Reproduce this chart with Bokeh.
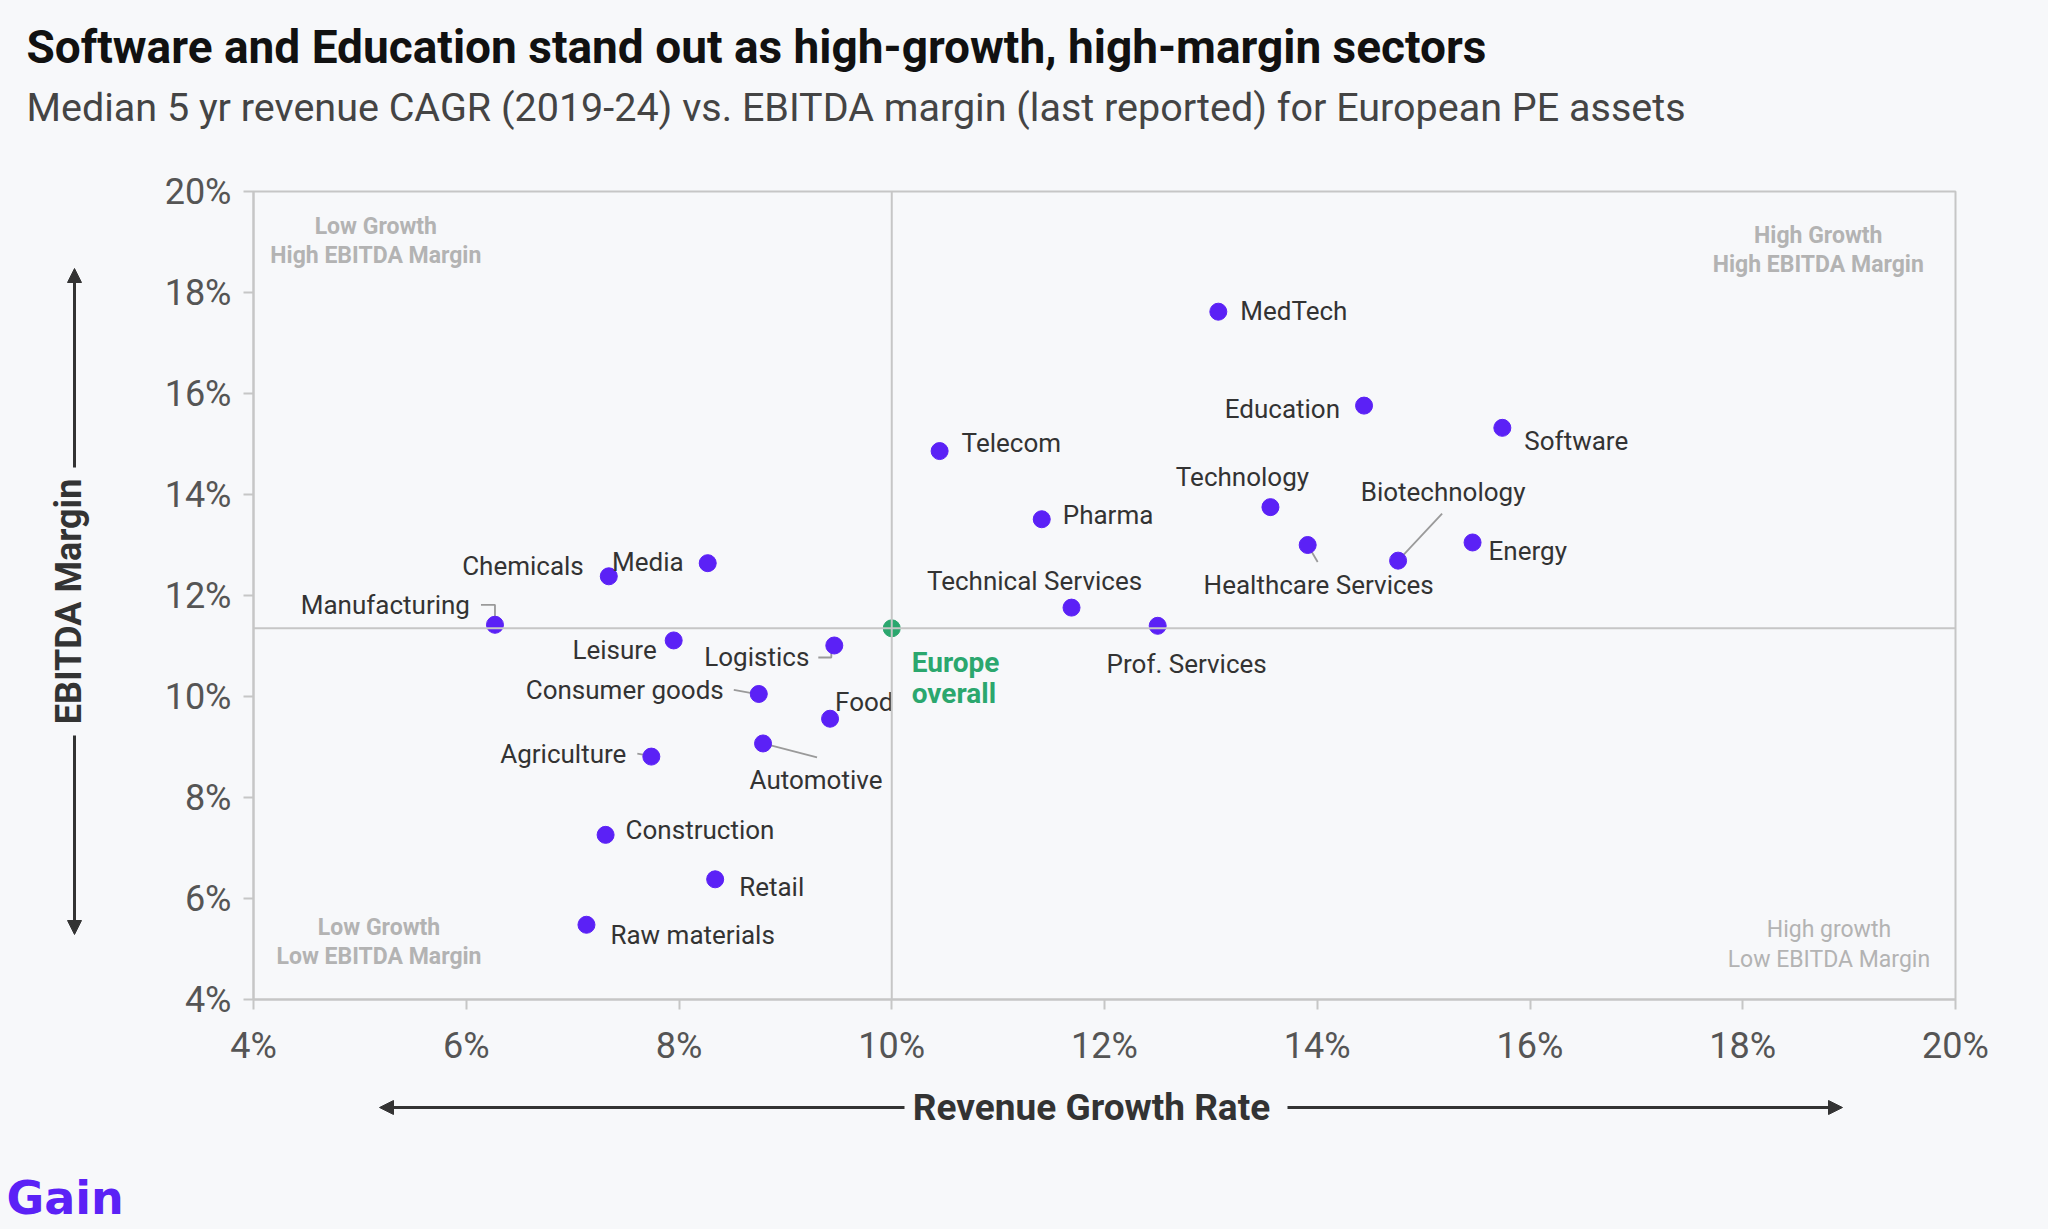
from bokeh.plotting import figure
from bokeh.layouts import column, row
from bokeh.models import (ColumnDataSource, Span, Label, Arrow, NormalHead,
                          FixedTicker, PrintfTickFormatter)
from bokeh.core.properties import value
from bokeh.embed import file_html
from bokeh.resources import INLINE
import math

# ---- data: median 5-yr revenue CAGR (%) vs EBITDA margin (%) ----
sectors = ["MedTech", "Education", "Software", "Telecom", "Technology", "Pharma",
           "Healthcare Services", "Biotechnology", "Energy", "Technical Services",
           "Prof. Services", "Media", "Chemicals", "Manufacturing", "Leisure",
           "Logistics", "Consumer goods", "Food", "Automotive", "Agriculture",
           "Construction", "Retail", "Raw materials"]
growth = [13.07, 14.44, 15.74, 10.45, 13.56, 11.41, 13.91, 14.76, 15.46, 11.69,
          12.50, 8.27, 7.34, 6.27, 7.95, 9.46, 8.75, 9.42, 8.79, 7.74, 7.31, 8.34, 7.13]
margin = [17.62, 15.76, 15.32, 14.86, 13.75, 13.51, 13.00, 12.69, 13.05, 11.76,
          11.40, 12.64, 12.38, 11.42, 11.11, 11.01, 10.05, 9.56, 9.07, 8.81, 7.26, 6.38, 5.48]

europe_growth = 10.0
europe_margin = 11.35

x_ticks = [4, 6, 8, 10, 12, 14, 16, 18, 20]
y_ticks = [4, 6, 8, 10, 12, 14, 16, 18, 20]

quadrant_text = ["Low Growth\nHigh EBITDA Margin", "High Growth\nHigh EBITDA Margin",
                 "Low Growth\nLow EBITDA Margin", "High growth\nLow EBITDA Margin"]
quadrant_x = [5.15, 18.71, 5.18, 18.81]
quadrant_y = [19.02, 18.84, 5.14, 5.09]
quadrant_bold = [True, True, True, False]

title_text = "Software and Education stand out as high-growth, high-margin sectors"
subtitle_text = ("Median 5 yr revenue CAGR (2019-24) vs. EBITDA margin "
                 "(last reported) for European PE assets")
x_title = "Revenue Growth Rate"
y_title = "EBITDA Margin"

# label placement: (align, dx px, dy px downwards)
label_pos = {
    "MedTech": ("left", 22, -1), "Education": ("right", -24, 3),
    "Software": ("left", 22, 13), "Telecom": ("left", 22, -8),
    "Technology": ("center", -28, -30), "Pharma": ("left", 21, -4),
    "Healthcare Services": ("center", 11, 40), "Biotechnology": ("center", 45, -69),
    "Energy": ("left", 16, 9), "Technical Services": ("center", -37, -27),
    "Prof. Services": ("center", 29, 38), "Media": ("right", -24, -1),
    "Chemicals": ("right", -25, -10), "Manufacturing": ("right", -25, -20),
    "Leisure": ("right", -17, 10), "Logistics": ("right", -25, 12),
    "Consumer goods": ("right", -35, -4), "Food": ("left", 5, -17),
    "Automotive": ("center", 53, 37), "Agriculture": ("right", -25, -3),
    "Construction": ("left", 20, -5), "Retail": ("left", 24, 8),
    "Raw materials": ("left", 24, 10),
}

# leader lines as pixel offsets from each dot
leaders = {
    "Manufacturing": [(0, -8), (0, -20), (-14, -20)],
    "Logistics": [(-3, 4), (-3, 12), (-16, 12)],
    "Consumer goods": [(-25, -4), (-3, 0)],
    "Agriculture": [(-14, -3), (-3, -1)],
    "Automotive": [(0, 0), (54, 14)],
    "Healthcare Services": [(0, 0), (10, 17)],
    "Biotechnology": [(0, 0), (44, -47)],
}

# ---- page geometry ----
W, H = 2048, 1229
HEAD_H = 150          # title block
FOOT_H = 154          # x-axis title block
SIDE_W = 110          # y-axis title block
MID_H = H - HEAD_H - FOOT_H
MAIN_W = W - SIDE_W
FL, FT, FR, FB = 143, 41, 93, 76   # borders of the main chart
FW, FH = MAIN_W - FL - FR, MID_H - FT - FB
X0, X1, Y0, Y1 = 4, 20, 4, 20
KX = (X1 - X0) / FW
KY = (Y1 - Y0) / FH

BG = "#f7f8fa"
PURPLE = "#5b21f6"
GREEN = "#2ba76e"
DARK = "#333333"
FONT = "Roboto"


def panel(w, h, y_top=0, y_bottom=None):
    """A blank drawing surface measured in page pixels (y grows downwards)."""
    if y_bottom is None:
        y_bottom = h
    f = figure(width=w, height=h, x_range=(0, w), y_range=(y_bottom, y_top), title=None,
               output_backend="svg", toolbar_location=None,
               x_axis_location=None, y_axis_location=None,
               min_border=0, background_fill_color=BG, border_fill_color=BG,
               outline_line_color=None, styles={"background-color": BG})
    f.grid.visible = False
    return f


def head():
    return NormalHead(size=14, fill_color=DARK, line_color=DARK)


# ---- header ----
top = panel(W, HEAD_H)
top.add_layout(Label(x=26, y=46, text=title_text, text_font=FONT, text_font_size="46px",
                     text_font_style="bold", text_color="#111111", text_baseline="middle"))
top.add_layout(Label(x=26, y=107, text=subtitle_text, text_font=FONT, text_font_size="39.5px",
                     text_color="#444444", text_baseline="middle"))

# ---- main chart ----
p = figure(width=MAIN_W, height=MID_H, x_range=(X0, X1), y_range=(Y0, Y1), title=None,
           output_backend="svg", toolbar_location=None,
           min_border_left=FL, min_border_right=FR, min_border_top=FT, min_border_bottom=FB,
           background_fill_color=BG, border_fill_color=BG,
           outline_line_color="#c6c6c6", outline_line_width=2,
           styles={"background-color": BG})
p.grid.visible = False

for ax, ticks in ((p.xaxis, x_ticks), (p.yaxis, y_ticks)):
    ax.ticker = FixedTicker(ticks=ticks)
    ax.formatter = PrintfTickFormatter(format="%d%%")
    ax.axis_line_color = "#c6c6c6"
    ax.axis_line_width = 2
    ax.major_tick_line_color = "#c6c6c6"
    ax.major_tick_line_width = 2
    ax.major_tick_out = 10
    ax.major_tick_in = 0
    ax.minor_tick_line_color = None
    ax.major_label_text_font = FONT
    ax.major_label_text_font_size = "36px"
    ax.major_label_text_color = "#555555"
p.yaxis.major_label_standoff = 12
p.xaxis.major_label_standoff = 15

# leader lines
lx, ly = [], []
for name, pts in leaders.items():
    i = sectors.index(name)
    lx.append([growth[i] + dx * KX for dx, dy in pts])
    ly.append([margin[i] - dy * KY for dx, dy in pts])
p.multi_line(lx, ly, line_color="#9a9a9a", line_width=1.8)

# sector dots
p.scatter(growth, margin, size=17, fill_color=PURPLE, line_color=PURPLE)
p.scatter([europe_growth], [europe_margin], size=17, fill_color=GREEN, line_color=GREEN)

# reference lines through the European median
for loc, dim in ((europe_growth, "height"), (europe_margin, "width")):
    p.add_layout(Span(location=loc, dimension=dim, line_color="#c6c6c6", line_width=2))

# sector labels grouped by alignment
for align in ("left", "right", "center"):
    names = [s for s in sectors if label_pos[s][0] == align]
    src = ColumnDataSource(dict(
        x=[growth[sectors.index(s)] + label_pos[s][1] * KX for s in names],
        y=[margin[sectors.index(s)] - label_pos[s][2] * KY for s in names],
        t=names))
    p.text("x", "y", text="t", source=src, text_align=align, text_baseline="middle",
           text_font=value(FONT), text_font_size="26px", text_color=DARK)

# Europe overall label
for line, dy in (("Europe", 34), ("overall", 65)):
    p.text([europe_growth + 20 * KX], [europe_margin - dy * KY], text=[line],
           text_font=value(FONT), text_font_size="28px", text_font_style="bold",
           text_color=GREEN, text_baseline="middle")

# quadrant captions
for t, qx, qy, b in zip(quadrant_text, quadrant_x, quadrant_y, quadrant_bold):
    p.text([qx], [qy], text=[t], text_align="center", text_baseline="middle",
           text_font=value(FONT), text_font_size="23px",
           text_font_style="bold" if b else "normal",
           text_color="#b3b3b3", text_line_height=1.1)

# ---- y-axis title with arrows ----
# the side panel's frame lines up with the chart frame, so it spans the same page rows
side = panel(SIDE_W, MID_H, y_top=HEAD_H + FT, y_bottom=HEAD_H + FT + FH)
side.add_layout(Label(x=68, y=601, text=y_title, angle=math.pi / 2, text_font=FONT,
                      text_font_size="36px", text_font_style="bold", text_color=DARK,
                      text_align="center", text_baseline="middle"))
for ys, ye in ((467, 268), (735, 934)):
    side.add_layout(Arrow(x_start=74, y_start=ys, x_end=74, y_end=ye, end=head(),
                          line_color=DARK, line_width=3))

# ---- x-axis title with arrows and brand mark ----
foot = panel(W, FOOT_H)
foot.add_layout(Label(x=1091, y=32, text=x_title, text_font=FONT, text_font_size="37px",
                      text_font_style="bold", text_color=DARK, text_align="center",
                      text_baseline="middle"))
for xs, xe in ((904, 379), (1287, 1842)):
    foot.add_layout(Arrow(x_start=xs, y_start=32, x_end=xe, y_end=32, end=head(),
                          line_color=DARK, line_width=3))
foot.add_layout(Label(x=6, y=122, text="Gain", text_font="DejaVu Sans", text_font_size="46px",
                      text_font_style="bold", text_color=PURPLE, text_baseline="middle"))

layout = column(top, row(side, p, spacing=0, styles={"background-color": BG}), foot,
                spacing=0, styles={"background-color": BG})
open("out.html", "w").write(file_html(layout, INLINE))
